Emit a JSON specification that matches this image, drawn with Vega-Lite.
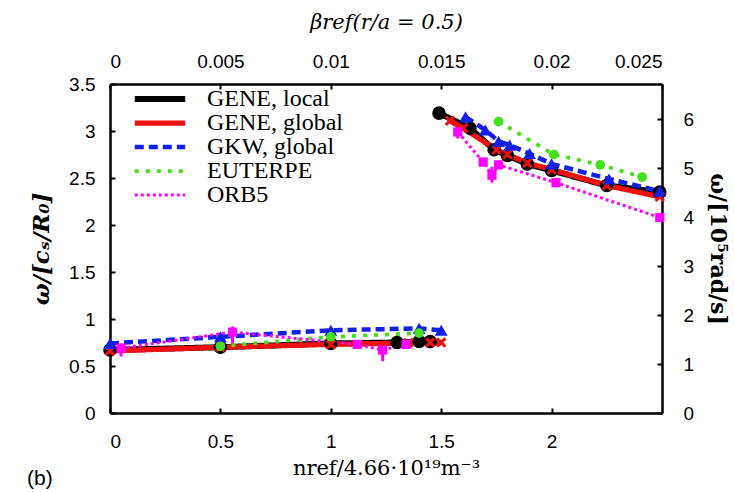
{
  "$schema": "https://vega.github.io/schema/vega-lite/v6.json",
  "width": 552,
  "height": 329,
  "autosize": "none",
  "padding": {"left": 110, "top": 84, "right": 72, "bottom": 79},
  "background": "white",
  "title": {"text": "(b)", "orient": "bottom", "anchor": "start", "frame": "group", "dx": -83, "offset": -10, "font": "Liberation Sans", "fontSize": 21, "fontWeight": "normal", "color": "black"},
  "datasets": {
    "main": [
      {"series": "GENE, local", "seg": "low", "x": 0, "y": 0.67},
      {"series": "GENE, local", "seg": "low", "x": 0.5, "y": 0.70},
      {"series": "GENE, local", "seg": "low", "x": 1.0, "y": 0.74},
      {"series": "GENE, local", "seg": "low", "x": 1.3, "y": 0.75},
      {"series": "GENE, local", "seg": "low", "x": 1.4, "y": 0.76},
      {"series": "GENE, local", "seg": "low", "x": 1.45, "y": 0.76},
      {"series": "GENE, local", "seg": "high", "x": 1.49, "y": 3.19},
      {"series": "GENE, local", "seg": "high", "x": 1.63, "y": 3.03},
      {"series": "GENE, local", "seg": "high", "x": 1.74, "y": 2.80},
      {"series": "GENE, local", "seg": "high", "x": 1.80, "y": 2.74},
      {"series": "GENE, local", "seg": "high", "x": 1.89, "y": 2.65},
      {"series": "GENE, local", "seg": "high", "x": 2.0, "y": 2.58},
      {"series": "GENE, local", "seg": "high", "x": 2.25, "y": 2.42},
      {"series": "GENE, local", "seg": "high", "x": 2.49, "y": 2.35},
      {"series": "GENE, global", "seg": "low", "x": 0, "y": 0.66},
      {"series": "GENE, global", "seg": "low", "x": 0.5, "y": 0.70},
      {"series": "GENE, global", "seg": "low", "x": 1.0, "y": 0.73},
      {"series": "GENE, global", "seg": "low", "x": 1.35, "y": 0.745},
      {"series": "GENE, global", "seg": "low", "x": 1.45, "y": 0.75},
      {"series": "GENE, global", "seg": "low", "x": 1.5, "y": 0.75},
      {"series": "GENE, global", "seg": "high", "x": 1.54, "y": 3.11},
      {"series": "GENE, global", "seg": "high", "x": 1.60, "y": 3.03},
      {"series": "GENE, global", "seg": "high", "x": 1.75, "y": 2.80},
      {"series": "GENE, global", "seg": "high", "x": 1.80, "y": 2.75},
      {"series": "GENE, global", "seg": "high", "x": 1.89, "y": 2.66},
      {"series": "GENE, global", "seg": "high", "x": 2.0, "y": 2.59},
      {"series": "GENE, global", "seg": "high", "x": 2.25, "y": 2.42},
      {"series": "GENE, global", "seg": "high", "x": 2.49, "y": 2.30},
      {"series": "GKW, global", "seg": "low", "x": 0, "y": 0.74},
      {"series": "GKW, global", "seg": "low", "x": 0.5, "y": 0.81},
      {"series": "GKW, global", "seg": "low", "x": 1.0, "y": 0.88},
      {"series": "GKW, global", "seg": "low", "x": 1.4, "y": 0.90},
      {"series": "GKW, global", "seg": "low", "x": 1.5, "y": 0.88},
      {"series": "GKW, global", "seg": "high", "x": 1.61, "y": 3.15},
      {"series": "GKW, global", "seg": "high", "x": 1.70, "y": 3.01},
      {"series": "GKW, global", "seg": "high", "x": 1.76, "y": 2.89},
      {"series": "GKW, global", "seg": "high", "x": 1.81, "y": 2.85},
      {"series": "GKW, global", "seg": "high", "x": 1.90, "y": 2.76},
      {"series": "GKW, global", "seg": "high", "x": 2.0, "y": 2.65},
      {"series": "GKW, global", "seg": "high", "x": 2.26, "y": 2.49},
      {"series": "GKW, global", "seg": "high", "x": 2.49, "y": 2.36},
      {"series": "EUTERPE", "seg": "low", "x": 0.5, "y": 0.71},
      {"series": "EUTERPE", "seg": "low", "x": 1.0, "y": 0.81},
      {"series": "EUTERPE", "seg": "low", "x": 1.4, "y": 0.85},
      {"series": "EUTERPE", "seg": "high", "x": 1.76, "y": 3.10},
      {"series": "EUTERPE", "seg": "high", "x": 2.01, "y": 2.75},
      {"series": "EUTERPE", "seg": "high", "x": 2.22, "y": 2.64},
      {"series": "EUTERPE", "seg": "high", "x": 2.41, "y": 2.51},
      {"series": "ORB5", "seg": "low", "x": 0.05, "y": 0.69, "lo": 0.60, "hi": 0.74},
      {"series": "ORB5", "seg": "low", "x": 0.555, "y": 0.86, "lo": 0.71, "hi": 0.92},
      {"series": "ORB5", "seg": "low", "x": 1.12, "y": 0.73},
      {"series": "ORB5", "seg": "low", "x": 1.235, "y": 0.67, "lo": 0.55, "hi": 0.72},
      {"series": "ORB5", "seg": "low", "x": 1.34, "y": 0.73},
      {"series": "ORB5", "seg": "high", "x": 1.575, "y": 2.99, "lo": 2.92, "hi": 3.05},
      {"series": "ORB5", "seg": "high", "x": 1.69, "y": 2.67},
      {"series": "ORB5", "seg": "high", "x": 1.73, "y": 2.53, "lo": 2.45, "hi": 2.62},
      {"series": "ORB5", "seg": "high", "x": 1.76, "y": 2.64},
      {"series": "ORB5", "seg": "high", "x": 2.02, "y": 2.45},
      {"series": "ORB5", "seg": "high", "x": 2.49, "y": 2.08}
    ],
    "axes": [
      {"beta": 0, "omega": 0},
      {"beta": 0.025, "omega": 6.72}
    ]
  },
  "layer": [
    {
      "layer": [
        {
          "data": {"name": "main"},
          "transform": [{"filter": "isValid(datum.lo)"}],
          "mark": {"type": "rule", "color": "#ff00ff", "strokeWidth": 3},
          "encoding": {
            "x": {"field": "x", "type": "quantitative", "title": "nref/4.66·10¹⁹m⁻³"},
            "y": {"field": "lo", "type": "quantitative", "title": "ω/[cₛ/R₀]"},
            "y2": {"field": "hi"}
          }
        },
        {
          "data": {"name": "main"},
          "mark": {"type": "line"},
          "encoding": {
            "x": {"field": "x", "type": "quantitative", "scale": {"domain": [0, 2.5], "nice": false, "zero": false},
                  "axis": {"orient": "bottom", "values": [0, 0.5, 1, 1.5, 2], "format": "~g"}, "title": "nref/4.66·10¹⁹m⁻³"},
            "y": {"field": "y", "type": "quantitative", "scale": {"domain": [0, 3.5], "nice": false},
                  "axis": {"orient": "left", "values": [0, 0.5, 1, 1.5, 2, 2.5, 3, 3.5], "format": "~g"}, "title": "ω/[cₛ/R₀]"},
            "color": {"field": "series", "type": "nominal",
                      "scale": {"domain": ["GENE, local", "GENE, global", "GKW, global", "EUTERPE", "ORB5"],
                                "range": ["#000000", "#f01010", "#1020e8", "#44e01c", "#ff00ff"]},
                      "legend": {
                        "title": null, "orient": "none", "legendX": 38, "legendY": 3, "padding": 0,
                        "symbolType": "M-4.2,0L4.2,0", "symbolSize": 144,
                        "labelFont": "Liberation Serif", "labelFontSize": 24, "labelColor": "black",
                        "labelOffset": 35, "rowPadding": 0
                      }},
            "strokeDash": {"field": "series", "type": "nominal",
                           "scale": {"domain": ["GENE, local", "GENE, global", "GKW, global", "EUTERPE", "ORB5"],
                                     "range": [[1, 0], [1, 0], [9, 5], [4, 7], [3, 3]]}},
            "strokeWidth": {"field": "series", "type": "ordinal",
                            "scale": {"domain": ["GENE, local", "GENE, global", "GKW, global", "EUTERPE", "ORB5"],
                                      "range": [6, 3, 3, 3, 3]}},
            "detail": {"field": "seg"}
          }
        },
        {
          "data": {"name": "main"},
          "transform": [{"filter": "datum.series === 'GENE, local'"}],
          "mark": {"type": "point", "shape": "circle", "filled": true, "color": "#000000", "size": 185, "opacity": 1},
          "encoding": {
            "x": {"field": "x", "type": "quantitative", "title": "nref/4.66·10¹⁹m⁻³"},
            "y": {"field": "y", "type": "quantitative", "title": "ω/[cₛ/R₀]"}
          }
        },
        {
          "data": {"name": "main"},
          "transform": [{"filter": "datum.series === 'GENE, global'"}],
          "mark": {"type": "point", "shape": "M-1,-1L1,1M-1,1L1,-1", "filled": false, "color": "#f01010", "strokeWidth": 3, "size": 70, "opacity": 1},
          "encoding": {
            "x": {"field": "x", "type": "quantitative", "title": "nref/4.66·10¹⁹m⁻³"},
            "y": {"field": "y", "type": "quantitative", "title": "ω/[cₛ/R₀]"}
          }
        },
        {
          "data": {"name": "main"},
          "transform": [{"filter": "datum.series === 'GKW, global'"}],
          "mark": {"type": "point", "shape": "triangle-up", "filled": true, "color": "#1020e8", "size": 165, "opacity": 1},
          "encoding": {
            "x": {"field": "x", "type": "quantitative", "title": "nref/4.66·10¹⁹m⁻³"},
            "y": {"field": "y", "type": "quantitative", "title": "ω/[cₛ/R₀]"}
          }
        },
        {
          "data": {"name": "main"},
          "transform": [{"filter": "datum.series === 'EUTERPE'"}],
          "mark": {"type": "point", "shape": "circle", "filled": true, "color": "#44e01c", "size": 95, "opacity": 1},
          "encoding": {
            "x": {"field": "x", "type": "quantitative", "title": "nref/4.66·10¹⁹m⁻³"},
            "y": {"field": "y", "type": "quantitative", "title": "ω/[cₛ/R₀]"}
          }
        },
        {
          "data": {"name": "main"},
          "transform": [{"filter": "datum.series === 'ORB5'"}],
          "mark": {"type": "point", "shape": "square", "filled": true, "color": "#ff00ff", "size": 85, "opacity": 1},
          "encoding": {
            "x": {"field": "x", "type": "quantitative", "title": "nref/4.66·10¹⁹m⁻³"},
            "y": {"field": "y", "type": "quantitative", "title": "ω/[cₛ/R₀]"}
          }
        }
      ]
    },
    {
      "data": {"name": "axes"},
      "mark": {"type": "point", "opacity": 0},
      "encoding": {
        "x": {"field": "beta", "type": "quantitative", "scale": {"domain": [0, 0.025], "nice": false},
              "axis": {"orient": "top", "values": [0, 0.005, 0.01, 0.015, 0.02, 0.025], "format": "~g", "title": "βref(r/a = 0.5)", "titleFontStyle": "italic"}},
        "y": {"field": "omega", "type": "quantitative", "scale": {"domain": [0, 6.72], "nice": false},
              "axis": {"orient": "right", "values": [0, 1, 2, 3, 4, 5, 6], "format": "~g", "title": "ω/[10⁵rad/s]", "titleFontWeight": "bold", "titleFontSize": 22}}
      }
    }
  ],
  "resolve": {"scale": {"x": "independent", "y": "independent"}},
  "config": {
    "view": {"stroke": null},
    "axis": {
      "grid": false, "domainColor": "black", "domainWidth": 2.5, "tickColor": "black", "tickWidth": 2,
      "tickSize": -5, "labelFont": "Liberation Sans", "labelFontSize": 19, "labelColor": "black",
      "labelPadding": 18, "titleFont": "DejaVu Serif", "titleColor": "black", "titleFontSize": 21, "titleFontWeight": "normal"
    },
    "axisLeft": {"labelPadding": 20, "titleFontWeight": "bold", "titleFontStyle": "italic", "titleFontSize": 23, "titlePadding": 15},
    "axisRight": {"labelPadding": 26, "titlePadding": 12},
    "axisBottom": {"labelPadding": 24, "titlePadding": 6},
    "axisTop": {"titlePadding": 20}
  }
}
